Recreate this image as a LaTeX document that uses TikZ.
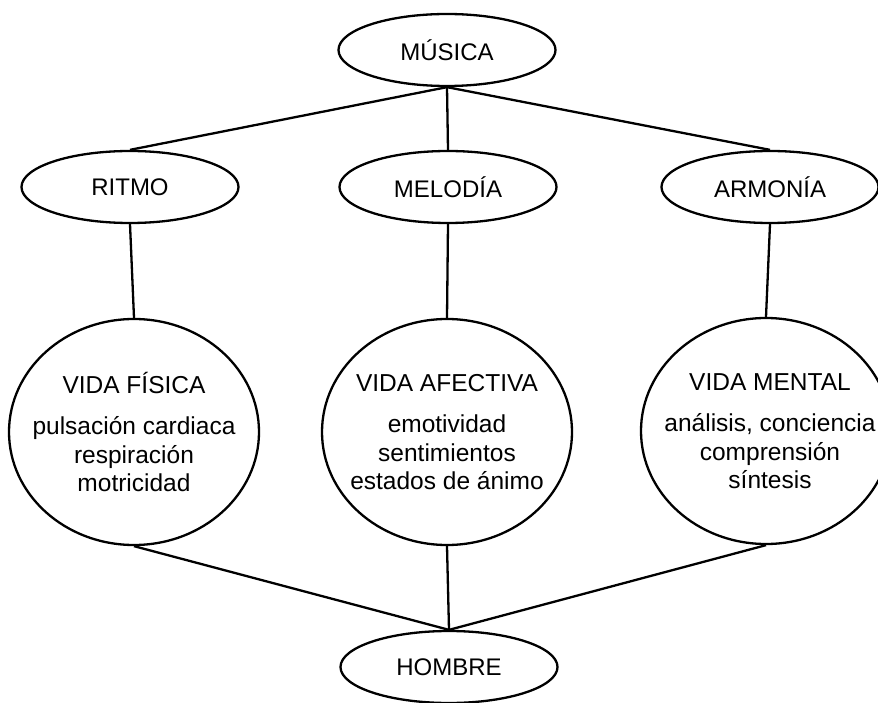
\documentclass[tikz,border=0pt]{standalone}
\usepackage{fontspec}
\setmainfont{Liberation Sans}
\usetikzlibrary{shapes}
\tikzstyle{bt} = [ellipse, draw, minimum width=217pt, minimum height=72pt,
    inner sep=0pt, font={\fontsize{24}{28.5}\selectfont}]
\tikzstyle{vida} = [ellipse, draw, minimum width=250pt, minimum height=226pt,
    inner sep=0pt]
\tikzstyle{vt} = [align=center, inner sep=0pt, font={\fontsize{24.5}{28.5}\selectfont}]

\begin{document}
\begin{tikzpicture}[x=1pt,y=-1pt,line width=2.3pt,node distance=137pt]

  \useasboundingbox (0,0) rectangle (878,703);
  \clip (0,0) rectangle (878,703);

  \node[bt]   (1) at (447,50)                                 {MÚSICA};
  \node[bt]   (3) [below of=1,xshift=1pt]                     {MELODÍA};
  \node[bt]   (2) [node distance=318pt,left of=3]             {RITMO};
  \node[bt]   (4) [node distance=322pt,right of=3]            {ARMONÍA};
  \node[vida] (5) [node distance=245pt,below of=2,xshift=4pt] {};
  \node[vida] (6) [node distance=245pt,below of=3,xshift=-1pt] {};
  \node[vida] (7) [node distance=244pt,below of=4,xshift=-4pt] {};
  \node[bt]   (8) [node distance=235pt,below of=6,xshift=2pt] {HOMBRE};

  \node[vt] (5t) at (5) {VIDA FÍSICA\\[13pt]pulsación cardiaca\\respiración\\motricidad};
  \node[vt] (6t) at (6) {VIDA AFECTIVA\\[13pt]emotividad\\sentimientos\\estados de ánimo};
  \node[vt,xshift=4pt] (7t) at (7) {VIDA MENTAL\\[13pt]análisis, conciencia\\comprensión\\síntesis};

  \path (1.south) edge (2.north)
        (1.south) edge (3.north)
        (1.south) edge (4.north)
        (2.south) edge (5.north)
        (3.south) edge (6.north)
        (4.south) edge (7.north)
        (5.south) edge (8.north)
        (6.south) edge (8.north)
        (7.south) edge (8.north);
%  (5) edge [bend right] (8)
%  (7) edge [bend left] (8)
\end{tikzpicture}
\end{document}
